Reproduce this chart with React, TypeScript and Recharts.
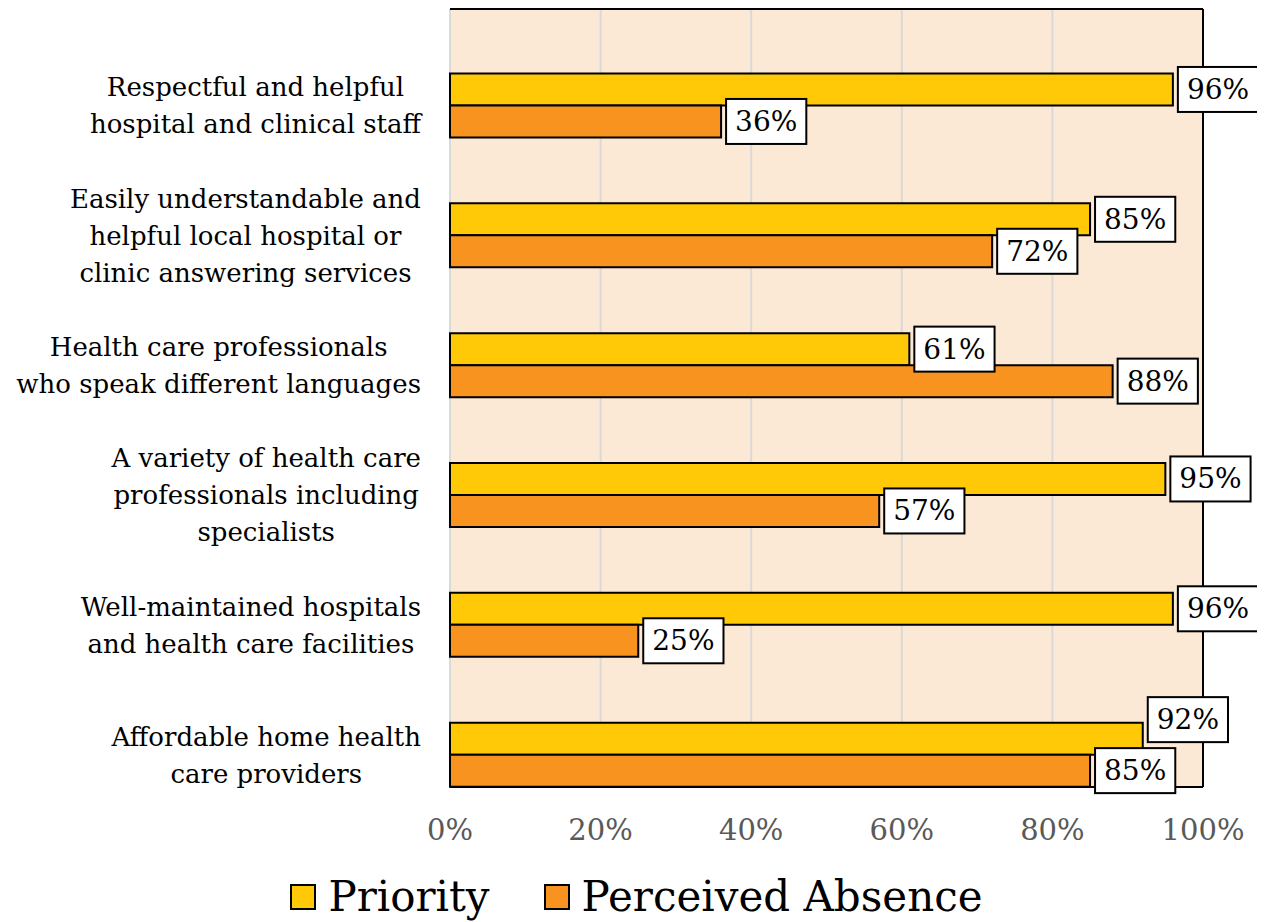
import React from "react";
import {
  BarChart,
  Bar,
  XAxis,
  YAxis,
  CartesianGrid,
  ReferenceLine,
  LabelList,
  Legend,
} from "recharts";

// Survey items, one label line per entry
const categories: string[] = [
  "Respectful and helpful\nhospital and clinical staff",
  "Easily understandable and\nhelpful local hospital or\nclinic answering services",
  "Health care professionals\nwho speak different languages",
  "A variety of health care\nprofessionals including\nspecialists",
  "Well-maintained hospitals\nand health care facilities",
  "Affordable home health\ncare providers",
];
const priority: number[] = [96, 85, 61, 95, 96, 92];
const perceivedAbsence: number[] = [36, 72, 88, 57, 25, 85];
const xTicks: number[] = [0, 20, 40, 60, 80, 100];

const seriesNames = { priority: "Priority", absence: "Perceived Absence" };
const COLORS = { priority: "#FFC907", absence: "#F7931E" };

const rows = categories.map((name, i) => ({
  name,
  priority: priority[i],
  absence: perceivedAbsence[i],
}));

const FONT = '"DejaVu Serif", serif';
const LINE_H = 37;
const LABEL_FONT_SIZE = 26;
const VALUE_FONT_SIZE = 28;
const BOX_H = 45;
const BOX_PAD = 9;
const BOX_GAP = 5;

let measureCtx: CanvasRenderingContext2D | null = null;
function textWidth(text: string, size: number): number {
  if (!measureCtx) {
    measureCtx = document.createElement("canvas").getContext("2d");
  }
  if (!measureCtx) return text.length * size * 0.55;
  measureCtx.font = `${size}px ${FONT}`;
  return measureCtx.measureText(text).width;
}

// Category tick: block right-aligned to the axis, lines centred within the block
function CategoryTick(props: any) {
  const { x, y, payload } = props;
  const lines: string[] = String(payload.value).split("\n");
  const blockW = Math.max(...lines.map((l) => textWidth(l, LABEL_FONT_SIZE)));
  const cx = x - blockW / 2;
  return (
    <text
      x={cx}
      y={y}
      textAnchor="middle"
      fontFamily={FONT}
      fontSize={LABEL_FONT_SIZE}
      fill="#000"
    >
      {lines.map((line, i) => (
        <tspan
          key={i}
          x={cx}
          y={y + (i - (lines.length - 1) / 2) * LINE_H}
          dominantBaseline="central"
        >
          {line}
        </tspan>
      ))}
    </text>
  );
}

function ValueBox({ left, cy, text }: { left: number; cy: number; text: string }) {
  const w = textWidth(text, VALUE_FONT_SIZE) + BOX_PAD * 2;
  return (
    <g>
      <rect
        x={left}
        y={cy - BOX_H / 2}
        width={w}
        height={BOX_H}
        fill="#fff"
        stroke="#000"
        strokeWidth={2}
      />
      <text
        x={left + w / 2}
        y={cy}
        textAnchor="middle"
        dominantBaseline="central"
        fontFamily={FONT}
        fontSize={VALUE_FONT_SIZE}
        fill="#000"
      >
        {text}
      </text>
    </g>
  );
}

// Priority label moves up when it would collide with the label of the bar below
function PriorityLabel(props: any) {
  const { x, y, width, height, value, index } = props;
  const text = `${value}%`;
  const left = x + width + BOX_GAP;
  const right = left + textWidth(text, VALUE_FONT_SIZE) + BOX_PAD * 2;
  const other = perceivedAbsence[index];
  const otherText = `${other}%`;
  const otherLeft = x + (width * other) / value + BOX_GAP;
  const otherRight = otherLeft + textWidth(otherText, VALUE_FONT_SIZE) + BOX_PAD * 2;
  let cy = y + height / 2;
  const dist = height;
  const overlapX = left < otherRight && otherLeft < right;
  if (overlapX && dist < BOX_H + 6) {
    cy -= BOX_H + 6 - dist;
  }
  return <ValueBox left={left} cy={cy} text={text} />;
}

function AbsenceLabel(props: any) {
  const { x, y, width, height, value } = props;
  return <ValueBox left={x + width + BOX_GAP} cy={y + height / 2} text={`${value}%`} />;
}

function LegendContent() {
  const items = [
    { label: seriesNames.priority, color: COLORS.priority },
    { label: seriesNames.absence, color: COLORS.absence },
  ];
  return (
    <div
      style={{
        display: "flex",
        justifyContent: "center",
        alignItems: "center",
        gap: 54,
        height: 50,
        paddingLeft: 62,
      }}
    >
      {items.map((it) => (
        <div key={it.label} style={{ display: "flex", alignItems: "center", gap: 12 }}>
          <div
            style={{
              width: 22,
              height: 22,
              background: it.color,
              border: "2px solid #000",
            }}
          />
          <span style={{ fontFamily: FONT, fontSize: 42, color: "#000", lineHeight: "50px" }}>
            {it.label}
          </span>
        </div>
      ))}
    </div>
  );
}

export default function App() {
  return (
    <BarChart
      width={1257}
      height={914}
      data={rows}
      layout="vertical"
      margin={{ top: 1, right: 62, bottom: 0, left: 0 }}
      barCategoryGap="25%"
      barGap={0}
    >
      <CartesianGrid
        horizontal={false}
        stroke="#D9D9D9"
        strokeWidth={2}
        fill="#FCE9D5"
        fillOpacity={1}
      />
      <CartesianGrid
        vertical={false}
        stroke="#000"
        strokeWidth={2}
        horizontalCoordinatesGenerator={({ offset }: any) => [
          offset.top,
          offset.top + offset.height,
        ]}
      />
      <ReferenceLine x={100} stroke="#000" strokeWidth={2} />
      <XAxis
        type="number"
        domain={[0, 100]}
        ticks={xTicks}
        tickFormatter={(v: number) => `${v}%`}
        axisLine={false}
        tickLine={false}
        tickMargin={26}
        height={85}
        interval={0}
        tick={{ fontFamily: FONT, fontSize: 29, fill: "#595959" }}
      />
      <YAxis
        type="category"
        dataKey="name"
        width={442}
        axisLine={false}
        tickLine={false}
        tickMargin={23}
        interval={0}
        padding={{ top: 32, bottom: -33 }}
        tick={<CategoryTick />}
      />
      <Legend verticalAlign="bottom" height={50} content={<LegendContent />} />
      <Bar
        dataKey="priority"
        name={seriesNames.priority}
        fill={COLORS.priority}
        stroke="#000"
        strokeWidth={2}
        isAnimationActive={false}
      >
        <LabelList dataKey="priority" content={<PriorityLabel />} />
      </Bar>
      <Bar
        dataKey="absence"
        name={seriesNames.absence}
        fill={COLORS.absence}
        stroke="#000"
        strokeWidth={2}
        isAnimationActive={false}
      >
        <LabelList dataKey="absence" content={<AbsenceLabel />} />
      </Bar>
    </BarChart>
  );
}
